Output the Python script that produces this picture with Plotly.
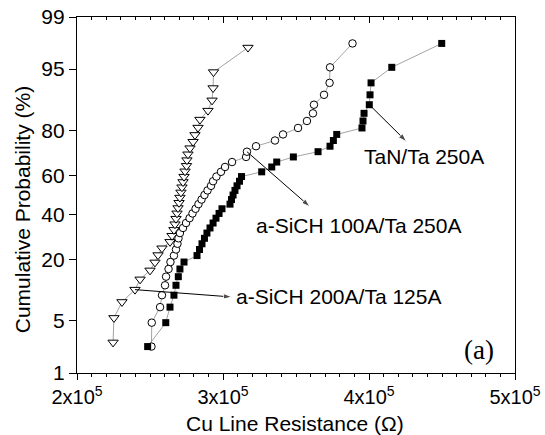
from statistics import NormalDist
import plotly.graph_objects as go

# Cu line resistance (ohm) for each stack, sorted, with cumulative probability (%)
res_sich200 = [224700, 225300, 230800, 239700, 243200, 250000, 253400, 255500, 258200,
               263700, 265100, 266400, 267100, 267800, 268500, 269200, 269900, 270500,
               271200, 271900, 272600, 273300, 274000, 275000, 275300, 276000, 277400,
               279500, 280800, 282900, 284200, 289700, 292500, 293200, 293500, 317100]
prob_sich200 = [2.70, 5.41, 8.11, 10.81, 13.51, 16.22, 18.92, 21.62, 24.32, 27.03, 29.73,
                32.43, 35.14, 37.84, 40.54, 43.24, 45.95, 48.65, 51.35, 54.05, 56.76, 59.46,
                62.16, 64.86, 67.57, 70.27, 72.97, 75.68, 78.38, 81.08, 83.78, 86.49, 89.19,
                91.89, 94.59, 97.30]

res_sich100 = [251000, 251200, 256900, 258200, 260300, 261000, 262700, 264000, 266400,
               267800, 268800, 269500, 270500, 272600, 274700, 277100, 279100, 281200,
               283200, 285300, 287300, 289400, 291800, 293200, 295500, 298600, 301400,
               306200, 315800, 316400, 322600, 335600, 341100, 351400, 357500, 361600,
               362300, 369200, 373000, 373300, 388700]

res_tan = [248400, 260800, 263700, 266400, 267800, 269400, 270500, 273300, 282200,
           283900, 285600, 287300, 289000, 291100, 293200, 295200, 297300, 299300,
           304800, 305800, 306900, 308200, 309600, 311300, 312700, 326500, 333400,
           336800, 348200, 365100, 373300, 375600, 377900, 395200, 395900, 396600,
           400200, 400700, 401400, 415600, 449800]

prob_41 = [2.38, 4.76, 7.14, 9.52, 11.90, 14.29, 16.67, 19.05, 21.43, 23.81, 26.19,
           28.57, 30.95, 33.33, 35.71, 38.10, 40.48, 42.86, 45.24, 47.62, 50.00, 52.38,
           54.76, 57.14, 59.52, 61.90, 64.29, 66.67, 69.05, 71.43, 73.81, 76.19, 78.57,
           80.95, 83.33, 85.71, 88.10, 90.48, 92.86, 95.24, 97.62]

prob_ticks = [1, 5, 20, 40, 60, 80, 95, 99]
x_ticks = [200000, 300000, 400000, 500000]
x_ticktext = ["2x10<sup>5</sup>", "3x10<sup>5</sup>", "4x10<sup>5</sup>", "5x10<sup>5</sup>"]

nd = NormalDist()


def probit(values):
    return [nd.inv_cdf(v / 100.0) for v in values]


z_200 = probit(prob_sich200)
z_41 = probit(prob_41)

FONT = "Liberation Sans, Arial, sans-serif"
LINE = dict(color="#8c8c8c", width=0.8)

fig = go.Figure()
fig.add_trace(go.Scatter(
    x=res_sich200, y=z_200, mode="lines+markers", line=LINE,
    marker=dict(symbol="triangle-down", size=9, color="white",
                line=dict(color="black", width=1)),
    name="a-SiCH 200A/Ta 125A"))
fig.add_trace(go.Scatter(
    x=res_sich100, y=z_41, mode="lines+markers", line=LINE,
    marker=dict(symbol="circle", size=7.5, color="white",
                line=dict(color="black", width=1)),
    name="a-SiCH 100A/Ta 250A"))
fig.add_trace(go.Scatter(
    x=res_tan, y=z_41, mode="lines+markers", line=LINE,
    marker=dict(symbol="square", size=7, color="black",
                line=dict(color="black", width=0)),
    name="TaN/Ta 250A"))
# carrier trace so the top (inside-tick) axis is rendered
fig.add_trace(go.Scatter(x=[res_tan[0]], y=[z_41[0]], xaxis="x2", mode="markers",
                         marker=dict(opacity=0), hoverinfo="skip", showlegend=False))


def leader(x0, y0, x1, y1):
    """Black leader line from a data point (x0, y0) to an arrow head at (x1, y1)."""
    fig.add_trace(go.Scatter(
        x=[x0, x1], y=[y0, y1], mode="lines+markers",
        line=dict(color="black", width=1),
        marker=dict(symbol=["circle", "arrow"], size=[1, 9], color="black",
                    angleref="previous"),
        hoverinfo="skip", showlegend=False))


# leader arrows start on a point of their own series
leader(res_tan[36], z_41[36], 425800, 0.697)
leader(res_sich100[29], z_41[29], 359600, -0.153)
leader(res_sich200[3], z_200[3], 306200, -1.333)

xr = [200000, 500000]
yr = [nd.inv_cdf(0.01), nd.inv_cdf(0.99)]

fig.update_layout(
    width=545, height=435,
    margin=dict(l=77, r=30, t=17, b=62, autoexpand=False),
    paper_bgcolor="white", plot_bgcolor="white",
    showlegend=False,
    font=dict(family=FONT, size=20, color="black"),
    xaxis=dict(
        range=xr, showgrid=False, zeroline=False, automargin=False,
        showline=True, linecolor="black", linewidth=1.3, mirror=False,
        tickmode="array", tickvals=x_ticks, ticktext=x_ticktext,
        ticks="outside", ticklen=6, tickwidth=1.2, tickcolor="black",
        minor=dict(tick0=200000, dtick=10000, ticks="outside", ticklen=3,
                   tickwidth=1, tickcolor="black", showgrid=False),
        tickfont=dict(family=FONT, size=20),
    ),
    xaxis2=dict(
        range=xr, overlaying="x", side="top", showgrid=False, zeroline=False,
        automargin=False,
        showline=True, linecolor="black", linewidth=1.3,
        tickmode="array", tickvals=x_ticks, showticklabels=False,
        ticks="inside", ticklen=6, tickwidth=1.2, tickcolor="black",
        minor=dict(tick0=200000, dtick=10000, ticks="inside", ticklen=3,
                   tickwidth=1, tickcolor="black", showgrid=False),
    ),
    yaxis=dict(
        range=yr, showgrid=False, zeroline=False, automargin=False,
        showline=True, linecolor="black", linewidth=1.3, mirror=True,
        tickmode="array", tickvals=probit(prob_ticks),
        ticktext=[str(v) for v in prob_ticks],
        ticks="outside", ticklen=7, tickwidth=1.2, tickcolor="black",
        tickfont=dict(family=FONT, size=21),
    ),
)

# axis titles
fig.add_annotation(x=0.498, y=-0.143, xref="paper", yref="paper",
                   text="Cu Line Resistance (Ω)", showarrow=False,
                   xanchor="center", yanchor="middle",
                   font=dict(family=FONT, size=21))
fig.add_annotation(x=-0.1256, y=0.46, xref="paper", yref="paper",
                   text="Cumulative Probability (%)", showarrow=False, textangle=-90,
                   xanchor="center", yanchor="middle",
                   font=dict(family=FONT, size=21))

fig.add_annotation(x=437700, y=0.497, text="TaN/Ta 250A", showarrow=False,
                   xref="x", yref="y", font=dict(family=FONT, size=21))
fig.add_annotation(x=392500, y=-0.405, text="a-SiCH 100A/Ta 250A", showarrow=False,
                   xref="x", yref="y", font=dict(family=FONT, size=21))
fig.add_annotation(x=307500, y=-1.333, text="a-SiCH 200A/Ta 125A", showarrow=False,
                   xref="x", yref="y", xanchor="left",
                   font=dict(family=FONT, size=21))

fig.add_annotation(x=0.957, y=0.065, xref="paper", yref="paper", text="(a)",
                   showarrow=False, xanchor="right", yanchor="middle",
                   font=dict(family="Liberation Serif, Times New Roman, serif", size=27))

fig.write_html("out.html")
